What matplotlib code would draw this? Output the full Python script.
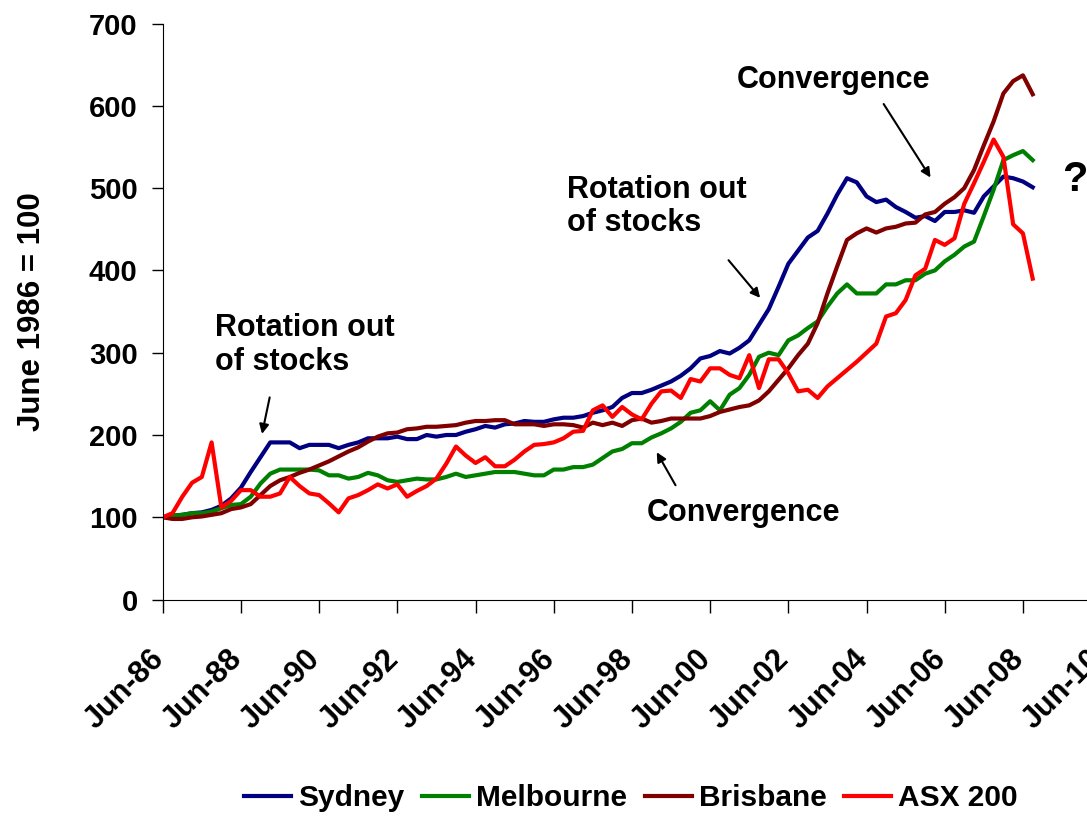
import matplotlib
matplotlib.use('Agg')
import matplotlib.pyplot as plt
import matplotlib.transforms as mtransforms
import numpy as np

plt.rcParams['font.family'] = ['Liberation Sans', 'DejaVu Sans']
plt.rcParams['font.weight'] = 'bold'

# Quarterly index, June 1986 = 100 (Jun-86 .. Sep-08)
sydney = [100, 102, 103, 105, 106, 109, 114, 123, 136, 155, 173, 191, 191, 191, 184, 188, 188, 188, 184, 188,
          191, 196, 196, 196, 198, 195, 195, 200, 198, 200, 200, 204, 207, 211, 209, 213, 214, 217, 216, 216,
          219, 221, 221, 223, 227, 230, 234, 245, 251, 251, 255, 260, 265, 272, 281, 293, 296, 302, 299, 306,
          315, 334, 353, 380, 408, 424, 440, 448, 469, 492, 512, 507, 490, 483, 486, 477, 471, 464, 466, 460,
          471, 471, 473, 470, 490, 502, 514, 512, 508, 501]
melbourne = [100, 102, 103, 105, 105, 107, 111, 115, 116, 125, 141, 153, 158, 158, 158, 158, 157, 151, 151, 147,
             149, 154, 151, 145, 143, 145, 147, 146, 146, 149, 153, 149, 151, 153, 155, 155, 155, 153, 151, 151,
             158, 158, 161, 161, 164, 172, 180, 183, 190, 190, 197, 202, 208, 216, 227, 230, 241, 230, 249, 257,
             273, 295, 300, 297, 315, 321, 330, 338, 356, 372, 383, 372, 372, 372, 383, 383, 388, 388, 396, 400,
             411, 419, 429, 435, 466, 498, 534, 540, 545, 534]
brisbane = [100, 98, 98, 100, 101, 103, 105, 110, 112, 116, 127, 138, 145, 149, 154, 158, 163, 168, 174, 180,
            185, 192, 198, 202, 203, 207, 208, 210, 210, 211, 212, 215, 217, 217, 218, 218, 213, 213, 213, 211,
            213, 213, 212, 209, 215, 212, 215, 211, 218, 220, 215, 217, 220, 220, 220, 220, 223, 228, 231, 234,
            236, 242, 253, 267, 281, 297, 311, 336, 372, 405, 437, 445, 451, 446, 451, 453, 457, 458, 468, 471,
            481, 489, 500, 522, 552, 581, 615, 630, 637, 614]
asx200 = [100, 105, 125, 142, 149, 191, 112, 120, 133, 133, 125, 125, 129, 149, 138, 129, 127, 117, 106, 123,
          127, 133, 140, 135, 140, 125, 132, 138, 147, 165, 186, 175, 166, 173, 162, 162, 170, 180, 188, 189,
          191, 196, 204, 205, 230, 236, 222, 234, 225, 219, 238, 253, 254, 245, 268, 265, 281, 281, 273, 269,
          297, 257, 292, 292, 275, 253, 255, 245, 259, 269, 279, 289, 300, 311, 344, 348, 364, 394, 402, 437,
          431, 439, 481, 506, 532, 559, 538, 456, 445, 390]

tick_labels = ['Jun-86', 'Jun-88', 'Jun-90', 'Jun-92', 'Jun-94', 'Jun-96', 'Jun-98',
               'Jun-00', 'Jun-02', 'Jun-04', 'Jun-06', 'Jun-08', 'Jun-10']

series = [('Sydney', sydney, '#000080'),
          ('Melbourne', melbourne, '#008000'),
          ('Brisbane', brisbane, '#800000'),
          ('ASX 200', asx200, '#FF0000')]

fig = plt.figure(figsize=(10.87, 8.16), dpi=100)
ax = fig.add_axes([0.1497, 0.2652, 0.8633, 0.706])

quarters = np.arange(len(sydney))
for nome, valores, cor in series:
    ax.plot(quarters, valores, color=cor, lw=3.0, label=nome, solid_joinstyle='round')

ax.set_xlim(0, 96)
ax.set_ylim(0, 700)
ax.set_xticks(np.arange(0, 97, 8))
ax.set_xticklabels(tick_labels, rotation=45, ha='right', va='top', rotation_mode='anchor', fontsize=22)
ax.set_yticks(np.arange(0, 701, 100))
ax.tick_params(axis='y', labelsize=21, length=8, width=1, direction='out', pad=10)
ax.tick_params(axis='x', length=9, width=1, direction='out', pad=23)
# desloca os rotulos do eixo x um pouco para a esquerda
desloc = mtransforms.ScaledTranslation(-14 / 100, 0, fig.dpi_scale_trans)
for rot in ax.get_xticklabels():
    rot.set_transform(rot.get_transform() + desloc)
ax.spines['top'].set_visible(False)
ax.spines['right'].set_visible(False)
ax.set_ylabel('June 1986 = 100', fontsize=22.5, fontweight='bold', labelpad=30)

# anotacoes
seta = dict(arrowstyle='-|>', color='black', lw=1.5, mutation_scale=14)
ax.text(5.3, 348, 'Rotation out\nof stocks', fontsize=22, ha='left', va='top', linespacing=1.15)
ax.annotate('', xy=(10.1, 198), xytext=(11.0, 249), arrowprops=seta)
ax.text(41.4, 516, 'Rotation out\nof stocks', fontsize=22, ha='left', va='top', linespacing=1.15)
ax.annotate('', xy=(61.3, 364), xytext=(57.7, 415), arrowprops=seta)
ax.text(58.75, 631, 'Convergence', fontsize=22, ha='left', va='center')
ax.annotate('', xy=(78.7, 510), xytext=(73.6, 605), arrowprops=seta)
ax.text(49.5, 105, 'Convergence', fontsize=22, ha='left', va='center')
ax.annotate('', xy=(50.4, 182), xytext=(52.6, 136), arrowprops=seta)
ax.text(93.3, 510, '?', fontsize=30, ha='center', va='center', clip_on=False)

fig.legend(loc='center', bbox_to_anchor=(0.5805, 0.022), ncol=4, frameon=False,
           fontsize=21.5, handlelength=1.57, handletextpad=0.23, columnspacing=0.6)

fig.savefig('out.png', dpi=100)
